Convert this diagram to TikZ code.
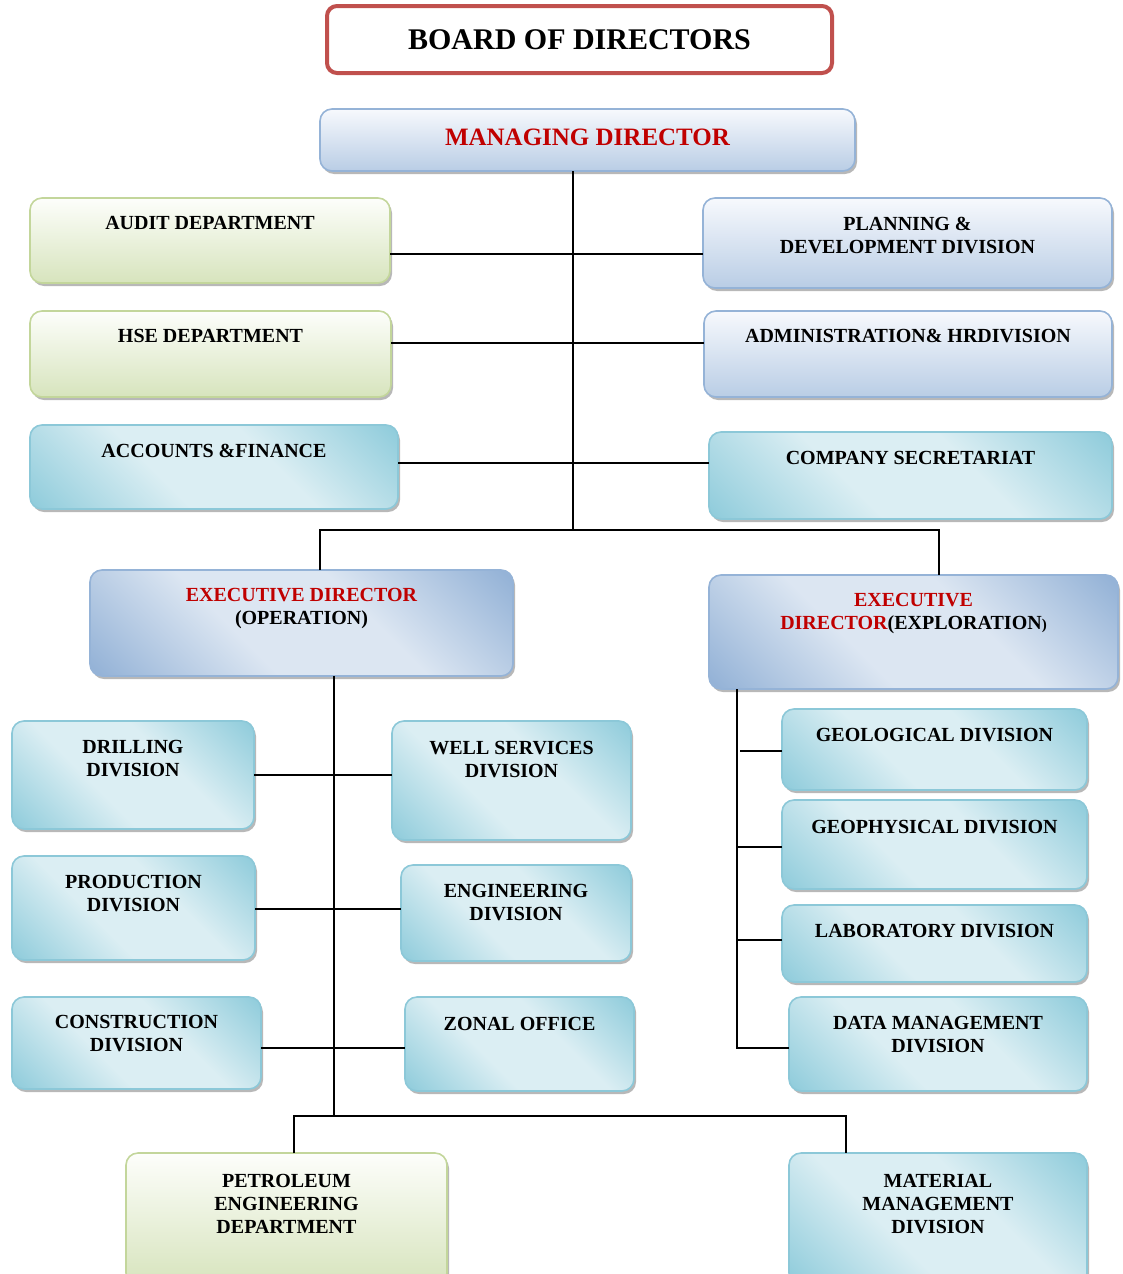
\documentclass[tikz,border=0pt]{standalone}
\usepackage{fontspec}
\setmainfont{Liberation Serif}
\usetikzlibrary{shadows}

\definecolor{boardred}{HTML}{C0504D}
\definecolor{headred}{HTML}{C00000}
\definecolor{bluetop}{HTML}{F7F9FD}
\definecolor{bluebot}{HTML}{B9CDE5}
\definecolor{blueedge}{HTML}{95B3D7}
\definecolor{bluedark}{HTML}{95B3D7}
\definecolor{bluelight}{HTML}{DCE6F2}
\definecolor{greentop}{HTML}{FDFEFB}
\definecolor{greenbot}{HTML}{D7E4BD}
\definecolor{greenedge}{HTML}{C3D69B}
\definecolor{aquadark}{HTML}{92CDDC}
\definecolor{aqualight}{HTML}{DBEEF3}
\definecolor{aquaedge}{HTML}{8CC8D8}

\pgfdeclarehorizontalshading{aquadiag}{100bp}{color(0bp)=(aquadark); color(16bp)=(aquadark); color(40bp)=(aqualight); color(60bp)=(aqualight); color(84bp)=(aquadark); color(100bp)=(aquadark)}
\pgfdeclarehorizontalshading{bluediag}{100bp}{color(0bp)=(bluedark); color(16bp)=(bluedark); color(40bp)=(bluelight); color(60bp)=(bluelight); color(84bp)=(bluedark); color(100bp)=(bluedark)}

% one chart box: name, style, x1, y1, x2, y2, text centre y, text
\newcommand\orgbox[8]{%
  \pgfmathsetmacro\obw{#5-#3}\pgfmathsetmacro\obh{#6-#4}%
  \pgfmathsetmacro\obx{(#3+#5)/2}\pgfmathsetmacro\oby{(#4+#6)/2}%
  \node[#2, minimum width=\obw pt, minimum height=\obh pt] (#1) at (\obx,\oby) {};%
  \node[lbl] (#1-t) at (\obx,#7) {#8};}

\begin{document}
\begin{tikzpicture}[x=1pt,y=-1pt,
  base/.style={rectangle, rounded corners=12pt, inner sep=0pt, outer sep=0pt, line width=1.6pt,
    drop shadow={shadow xshift=2pt, shadow yshift=-3pt, fill=gray!70, opacity=0.8}},
  boardbox/.style={rectangle, rounded corners=10pt, inner sep=0pt, outer sep=0pt, line width=4pt, draw=boardred, fill=white},
  bluebox/.style={base, draw=blueedge, top color=bluetop, bottom color=bluebot},
  greenbox/.style={base, draw=greenedge, top color=greentop, bottom color=greenbot},
  aquabox/.style={base, draw=aquaedge, shading=aquadiag, shading angle=45},
  edbox/.style={base, draw=blueedge, shading=bluediag, shading angle=45},
  lbl/.style={font=\bfseries\fontsize{20}{23}\selectfont, align=center, inner sep=0pt},
  link/.style={line width=2.6pt, black}
]
\useasboundingbox (0,0) rectangle (1123,1274);

% connectors
\coordinate (trunk) at (573,530);
\coordinate (opbus) at (334,1116);
\coordinate (expbus) at (737,1048);

% boxes
\orgbox{board}{boardbox}{327}{6}{832}{73}{40}{\fontsize{30}{30}\selectfont BOARD OF DIRECTORS}
\orgbox{md}{bluebox}{320}{109}{855}{171}{137}{\fontsize{25}{25}\selectfont\color{headred}MANAGING DIRECTOR}
\orgbox{audit}{greenbox}{30}{198}{390}{283}{223}{AUDIT DEPARTMENT}
\orgbox{plan}{bluebox}{703}{198}{1112}{288}{235}{PLANNING \&\\DEVELOPMENT DIVISION}
\orgbox{hse}{greenbox}{30}{311}{391}{397}{336}{HSE DEPARTMENT}
\orgbox{admin}{bluebox}{704}{311}{1112}{397}{336}{ADMINISTRATION\& HRDIVISION}
\orgbox{acc}{aquabox}{30}{425}{398}{509}{451}{ACCOUNTS \&FINANCE}
\orgbox{sec}{aquabox}{709}{432}{1112}{519}{458}{COMPANY SECRETARIAT}
\orgbox{edop}{edbox}{90}{570}{513}{676}{608}{{\color{headred}EXECUTIVE DIRECTOR}\\(OPERATION)}
\orgbox{edex}{edbox}{709}{575}{1118}{689}{613}{{\color{headred}EXECUTIVE}\\{\color{headred}DIRECTOR}(EXPLORATION{\fontsize{15}{15}\selectfont)}}
\orgbox{drill}{aquabox}{12}{721}{254}{829}{759}{DRILLING\\DIVISION}
\orgbox{well}{aquabox}{392}{721}{631}{840}{760}{WELL SERVICES\\DIVISION}
\orgbox{prod}{aquabox}{12}{856}{255}{960}{894}{PRODUCTION\\DIVISION}
\orgbox{eng}{aquabox}{401}{865}{631}{961}{903}{ENGINEERING\\DIVISION}
\orgbox{cons}{aquabox}{12}{997}{261}{1089}{1034}{CONSTRUCTION\\DIVISION}
\orgbox{zonal}{aquabox}{405}{997}{634}{1091}{1024}{ZONAL OFFICE}
\orgbox{geol}{aquabox}{782}{709}{1087}{790}{735}{GEOLOGICAL DIVISION}
\orgbox{geop}{aquabox}{782}{800}{1087}{889}{827}{GEOPHYSICAL DIVISION}
\orgbox{lab}{aquabox}{782}{905}{1087}{982}{931}{LABORATORY DIVISION}
\orgbox{data}{aquabox}{789}{997}{1087}{1091}{1035}{DATA MANAGEMENT\\DIVISION}
\orgbox{petro}{greenbox}{126}{1153}{447}{1285}{1204}{PETROLEUM\\ENGINEERING\\DEPARTMENT}
\orgbox{mat}{aquabox}{789}{1153}{1087}{1285}{1204}{MATERIAL\\MANAGEMENT\\DIVISION}

% managing director trunk and staff branches
\draw[link] (md.south -| trunk) -- (trunk);
\draw[link] (audit.east |- 0,254) -- (plan.west |- 0,254);
\draw[link] (hse.east |- 0,343) -- (admin.west |- 0,343);
\draw[link] (acc.east |- 0,463) -- (sec.west |- 0,463);
\draw[link] (edop.north -| 320,0) |- (trunk) -| (edex.north -| 939,0);

% operation branch
\draw[link] (edop.south -| opbus) -- (opbus);
\draw[link] (drill.east |- 0,775) -- (well.west |- 0,775);
\draw[link] (prod.east |- 0,909) -- (eng.west |- 0,909);
\draw[link] (cons.east |- 0,1048) -- (zonal.west |- 0,1048);
\draw[link] (petro.north -| 294,0) |- (opbus) -| (mat.north -| 846,0);

% exploration branch
\draw[link] (edex.south -| expbus) -- (expbus) -- (data.west |- expbus);
\draw[link] (geol.west |- 0,751) -- (740,751);
\draw[link] (geop.west |- 0,847) -- (expbus |- 0,847);
\draw[link] (lab.west |- 0,940) -- (expbus |- 0,940);
\end{tikzpicture}
\end{document}
